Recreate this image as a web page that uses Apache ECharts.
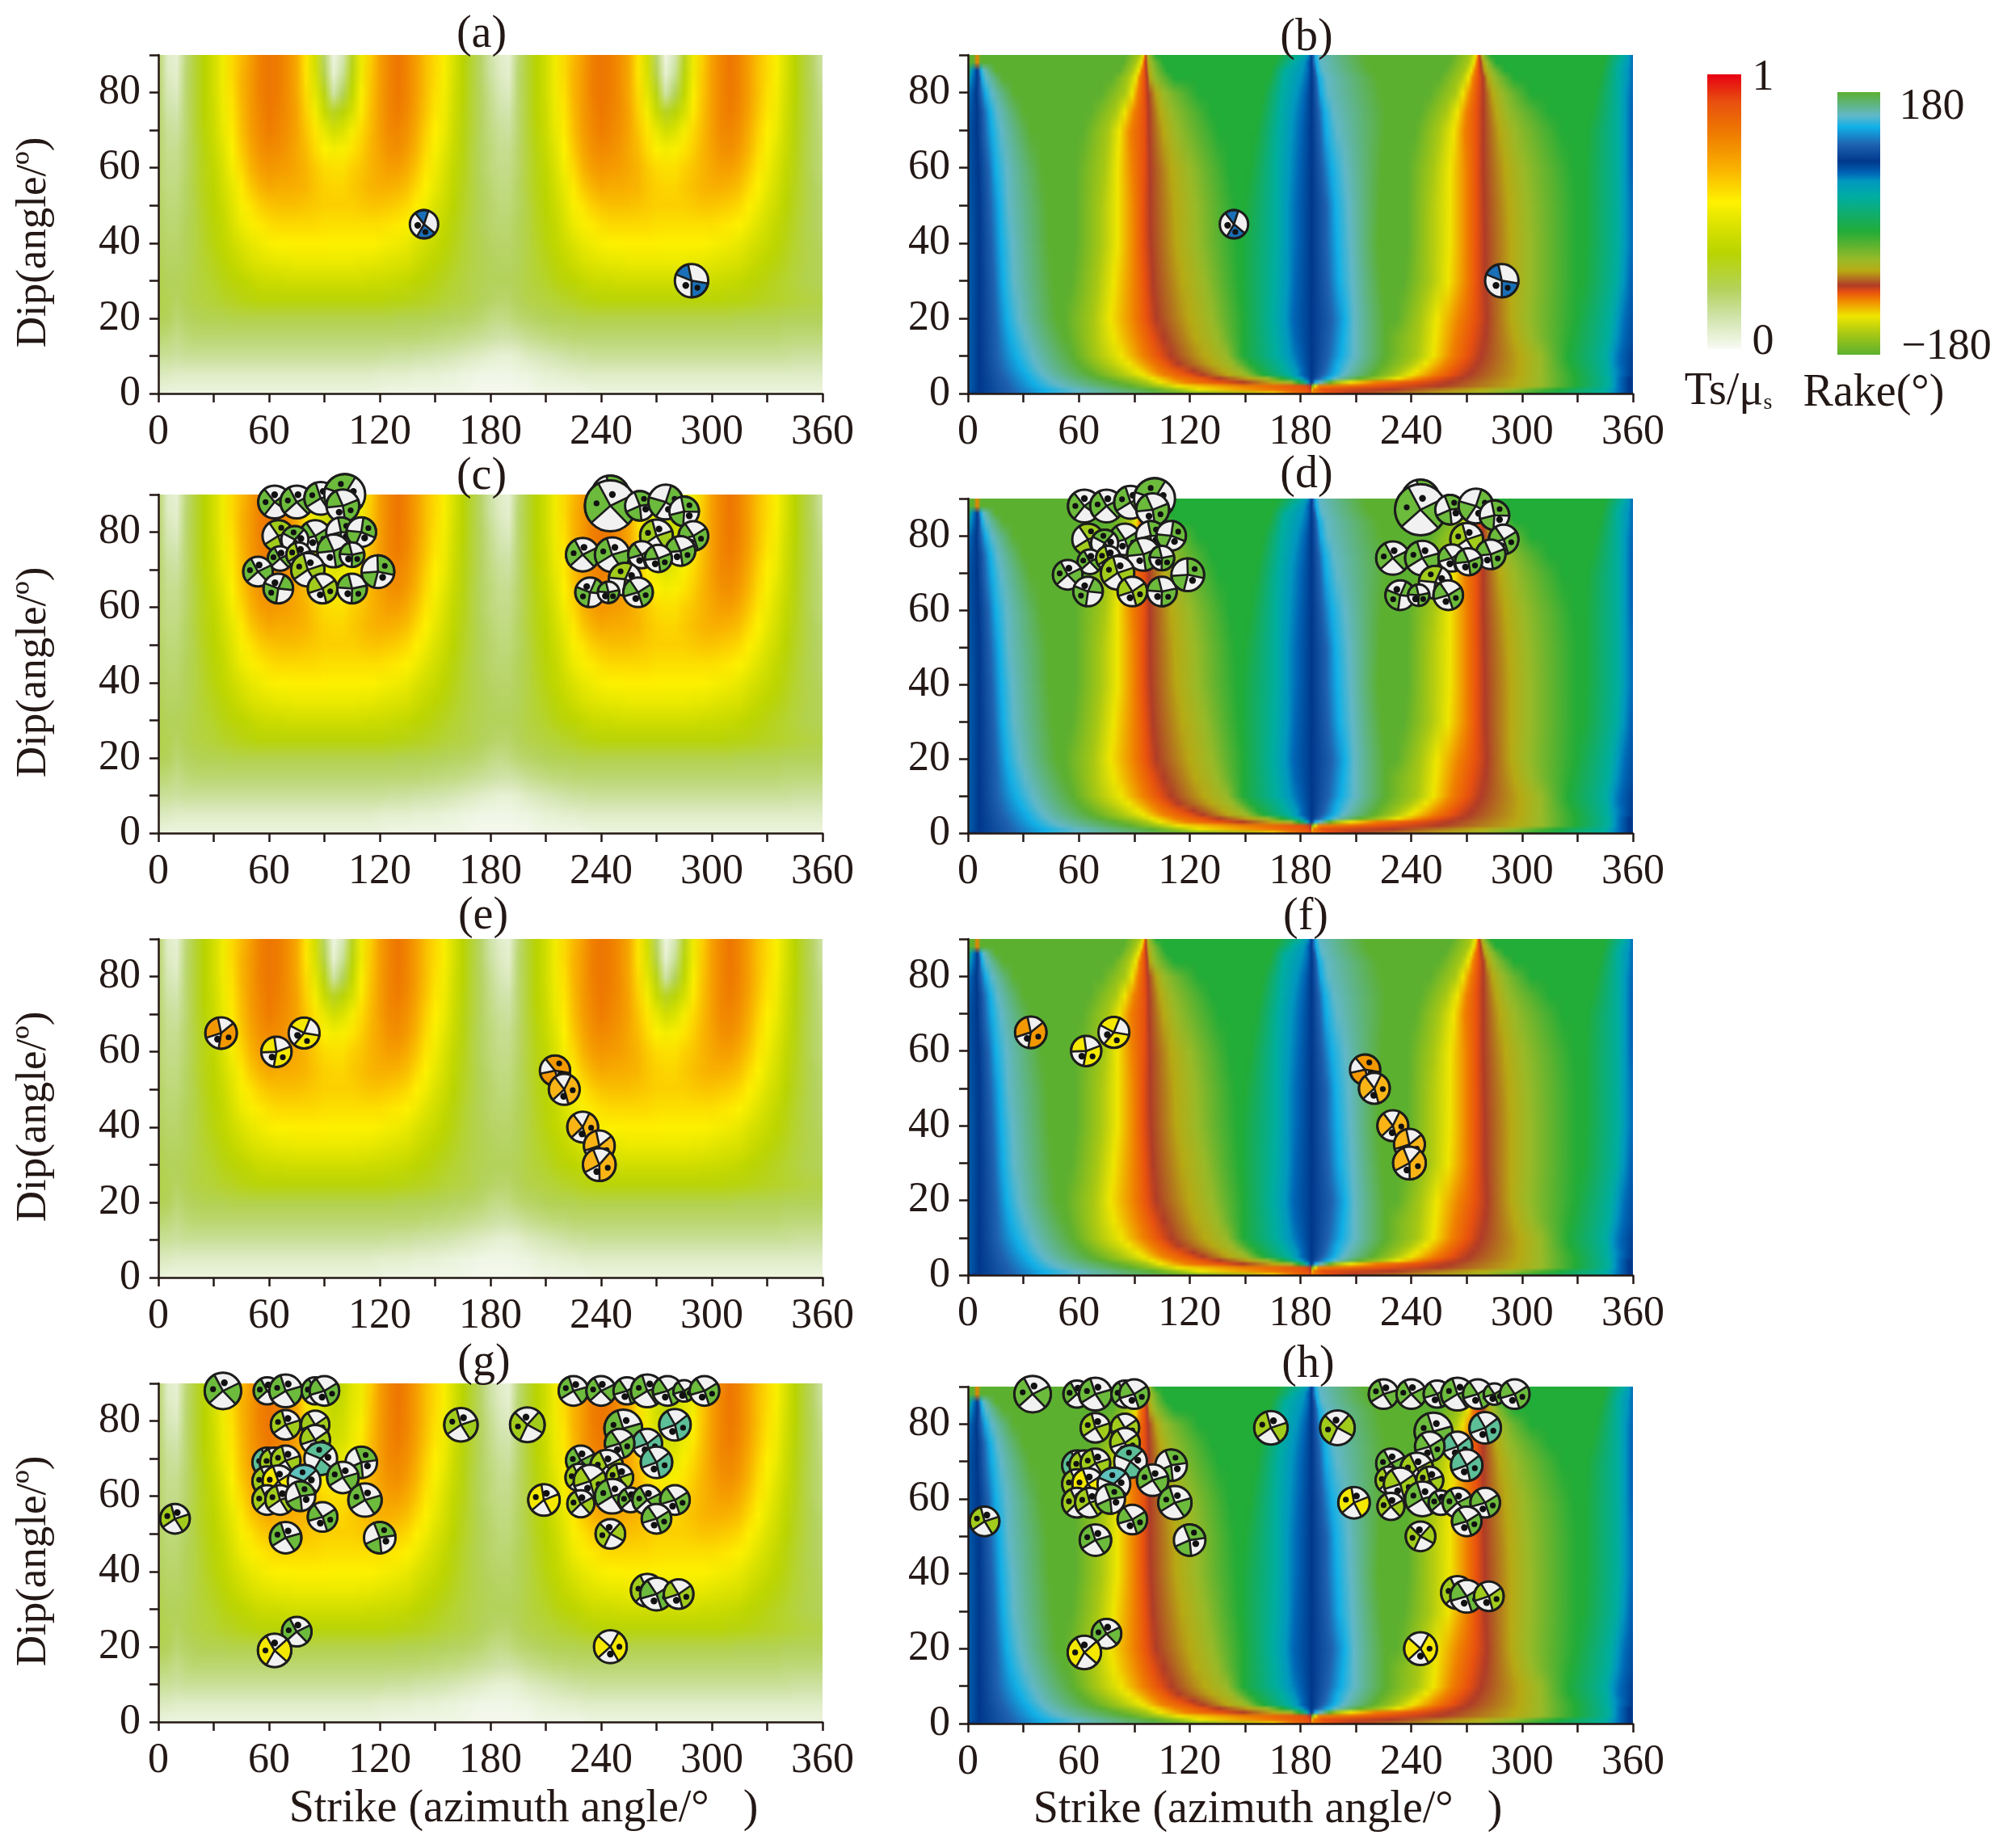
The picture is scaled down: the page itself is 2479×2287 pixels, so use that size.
<!DOCTYPE html>
<html>
<head>
<meta charset="utf-8">
<style>html,body{margin:0;padding:0;background:#fff}#chart{width:2479px;height:2287px}</style>
<script src="https://cdn.jsdelivr.net/npm/echarts@6/dist/echarts.min.js"></script>
</head>
<body>
<div id="chart"></div>
<script>
// Ts/mus, in percent, strike 0..180 step 5, one row per dip
var tsDips = [90,85,80,75,70,65,60,55,50,45,40,35,30,25,20,15,10,5,0];
var tsFirst = [
  [20,7,5,18,27,35,42,50,58,64,70,77,80,78,74,68,56,42,20,3,10,30,50,60,70,76,80,76,70,63,58,52,44,35,27,20,12],
  [20,8,6,19,27,35,42,50,58,65,71,77,80,78,74,68,56,44,24,5,14,33,50,61,70,76,80,76,70,63,58,52,44,35,27,20,13],
  [20,10,8,19,27,35,42,50,57,65,71,77,80,78,74,68,58,47,32,12,22,37,52,62,70,76,79,76,70,63,57,51,43,35,27,21,15],
  [20,12,11,19,27,35,41,49,56,64,71,76,79,77,74,69,60,51,39,30,34,43,55,63,70,76,78,75,69,62,56,50,42,34,27,21,16],
  [20,14,13,19,27,34,40,48,55,63,70,75,78,76,73,69,62,56,48,42,45,51,58,64,70,75,76,73,67,60,54,49,41,33,27,21,17],
  [20,15,15,20,26,33,39,46,53,61,68,73,75,74,72,68,64,58,53,51,52,56,60,65,69,73,74,71,65,58,52,47,40,33,26,21,18],
  [20,16,16,20,26,32,37,44,51,58,65,70,72,71,70,68,65,61,58,57,57,60,62,65,68,70,70,67,62,56,50,45,38,32,26,21,18],
  [20,17,17,21,26,32,36,42,48,55,61,65,68,67,67,66,65,62,60,59,59,61,63,65,66,66,65,63,58,53,48,43,37,31,26,22,19],
  [21,18,18,21,25,31,35,40,46,52,56,60,62,63,63,63,62,61,60,60,60,60,61,62,62,61,60,58,54,50,45,41,35,30,26,22,20],
  [21,19,19,22,25,30,34,38,44,49,52,55,57,58,58,58,58,58,57,57,57,57,57,57,57,56,55,53,50,46,42,38,33,29,25,22,20],
  [22,20,20,22,25,29,33,37,41,45,48,50,52,53,53,54,54,54,54,53,53,53,53,53,52,51,50,48,45,42,39,36,32,28,25,23,21],
  [23,21,21,22,25,28,31,34,38,41,44,46,47,48,48,49,49,49,49,49,49,49,48,48,47,46,45,44,41,38,36,33,30,27,25,23,22],
  [24,22,22,23,25,27,29,32,34,36,38,40,41,41,42,42,42,42,42,42,42,42,42,41,41,40,39,38,36,34,32,30,28,26,24,23,22],
  [24,23,21,23,25,26,27,29,30,32,33,34,34,34,34,34,34,34,34,34,34,34,34,34,34,33,33,32,31,30,29,27,26,25,24,22,21],
  [23,22,19,21,22,23,23,23,24,24,24,24,24,24,24,24,24,24,24,24,24,24,24,24,24,24,23,23,23,23,22,22,21,21,20,19,17],
  [19,18,16,18,19,19,19,19,19,19,19,19,19,19,19,19,19,19,19,19,19,19,19,19,19,19,19,19,19,18,18,17,17,16,15,14,13],
  [14,14,13,14,14,14,14,14,14,14,14,14,14,14,14,14,14,14,14,14,14,14,14,14,14,13,13,13,12,12,11,11,10,9,8,7,6],
  [8,8,7,7,7,7,7,7,7,7,7,7,7,7,7,7,7,7,7,7,7,7,7,7,6,6,6,6,5,5,5,4,4,3,3,2,2],
  [4,3,3,3,3,3,3,3,3,3,3,3,3,3,3,3,3,3,3,3,3,3,3,3,3,2,2,2,2,2,2,2,2,2,1,1,1]
];
// strike 185..360 for the low dips, the field is not periodic down there. upper rows repeat tsFirst
var tsSecondLow = {
  25: [20,20,22,24,25,26,27,29,30,32,33,34,34,34,34,34,34,34,34,34,34,34,34,34,34,33,33,32,31,30,29,28,27,26,25,25],
  20: [16,17,19,20,21,22,23,23,23,24,24,24,24,24,24,24,24,24,24,24,24,24,24,24,24,24,23,23,23,23,23,22,22,22,22,22],
  15: [12,12,13,15,16,17,18,18,19,19,19,19,19,19,19,19,19,19,19,19,19,19,19,19,19,19,19,19,19,19,19,18,18,18,18,18],
  10: [5,5,6,8,9,10,11,12,13,13,14,14,14,14,14,14,14,14,14,14,14,14,14,14,14,14,14,14,14,14,14,14,13,13,13,13],
  5: [2,2,3,3,4,5,5,6,6,7,7,7,7,7,7,7,7,7,7,7,7,7,7,7,7,7,7,7,7,7,7,7,7,7,7,7],
  0: [1,1,1,1,2,2,2,2,2,2,3,3,3,3,3,3,3,3,3,3,3,3,3,3,3,3,3,3,3,3,3,3,3,3,3,3]
};
// panels (c) and (g): the notch at strike 95 / 275 is not white at the top
var tsNotchStrikes = [85,90,95,100,105];
var tsNotchFilled = [
  [48,40,35,38,46],
  [49,42,37,40,47],
  [50,43,39,42,48],
  [51,46,42,44,49],
  [54,49,46,48,52]
];
var tsLevels = [0,0.12,0.22,0.35,0.45,0.535,0.66,0.78,0.9,1];
var tsColors = ['#f8fbf4','#cfe3a8','#b3d25a','#b9d400','#dbe200','#fff200','#f9b000','#ef7d00','#e8500f','#e60012'];

// rake: for each dip, the strike where the picture reaches each legend level
var rakeLevels = [-180,-151,-127,-104,-94,-85,-65,-50,-11,36,58,68,85,108,132,148,180];
var rakeColors = ['#5cb030','#a8c814','#f0e600','#f08000','#e8500f','#b03c28','#b8aa14','#9aba28','#22ac38','#00aea0','#0098c0','#0068b7','#00388c','#1f62b0','#10b0e8','#62b8c8','#5cb030'];
var rakeDips = [90,88,86,84,80,75,70,60,50,40,30,20,15,10,8,6,5,4,3,2,1,0];
var rakeColsFirst = [-11,58,68,85,108,132,148,180,-151,-127,-104,-94,-85,-65,-50,-11,36,58,68,85];
var rakeFirst = [
  [-10,-9,-8,-7,-6,-5,-4,-3,93,95,95.6,96,96.4,97,98,102,180,184,185,186],
  [-10,-9,-8,-7,-6,-5,-4,-2,91,94,95,95.6,96.4,97.5,99,106,176,182,184,186],
  [0,2,3.5,5,6,7,8.5,15,89,92.5,94,95.5,96.6,98,100,108,172,181,184,186],
  [-1,1,3,5,6.5,7.5,10,19,87,91,93,95.5,97,98.5,101,112,171,180,183.5,186],
  [-8,-3,1,4.5,7,9.5,13,25,85,89,92,95.5,97.5,102,106,125,170,178,182,186],
  [-12,-6,-1,5,8.5,12,16,30,80,85,90,95.5,98,104,110,132,169,176,181,186],
  [-14,-8,-3,5,9,13,18,34,76,82,88,95.5,98,106,113,136,168,175,180,186],
  [-16,-10,-3,5.5,11,15,21,40,74,81,89,95.5,98.5,110,120,142,167,174,179,186],
  [-18,-12,-2,6,12,17,22,43,72,81,90,95,98.5,112,123,145,167,173,178,186],
  [-20,-12,-1,6,13,18,24,44,72,81,90,95,99,113,124,146,167,173,178,186],
  [-20,-12,-1,6,14,19,25,46,70,79,90,96,100,116,128,147,166,173,177,186],
  [-20,-12,-1,6,15,21,28,48,68,77,90,97,102,120,132,149,165,172,176,186],
  [-20,-12,-1,6,15.5,23,31,52,68,79,92,100,106,123,135,149,166,173,177,186],
  [-20,-12,-1,6,16,26,35,57,70,83,95,104,110,128,140,149,167,174,179,186],
  [-20,-12,-1,6,17,28,37,60,74,87,99,108,114,132,143,153,170,176,180,186],
  [-20,-12,-1,6,18,30,39,64,80,92,103,115,122,138,148,157,172,178,181,186],
  [-20,-12,-1,6,19,32,41,67,83,95,106,120,127,141,151,160,174,178,181,186],
  [-20,-12,-1,6,20,33,43,72,90,100,112,128,136,152,162,170,178,181,183,186],
  [-20,-12,-1,6,21,35,46,80,97,104,118,137,149,165,175,179,183,184,185,186],
  [-20,-12,-1,6,22,37,50,88,104,114,149,182,186,186,186,186,186,186,186,186],
  [-20,-12,-1,6,23,41,58,100,115,125,160,184,186,186,186,186,186,186,186,186],
  [-20,-14,-8,4,24,40,60,112,150,165,175,186,186,186,186,186,186,186,186,186]
];
var rakeColsSecond = [108,132,148,180,-151,-127,-104,-94,-85,-65,-50,-11,36,58,68,85];
var rakeSecond = [
  [187,188,190,215,272,275,276,276.5,277,278,279,283,355,358,360,362],
  [187,188.5,191,216,271,274,275.5,276.5,277.5,279,281,286,353,358,360,362],
  [188,189,192,218,269,272.5,274.5,276.5,278,280,283,291,352,357,360,363],
  [188.5,190,194,222,267,271,273.5,276.5,279,281.5,285,296,352,357,360,363],
  [189,191,195,224,264,268,272,276,279,284,289,305,352,356,359.5,364],
  [190,193,198,226,259,265,270,275.5,279,286,292,315,352,356,359,365],
  [190.5,194,200,226,255,263,269,275.5,279,288,296,322,352,356,359,365],
  [192,197,204,224,252,261,270,275.5,279,291,301,328,352,356,359,366],
  [194,199,206,223,250,261,270,275.5,279.5,293,303,330,352,356,360,366],
  [194,200,207,222,250,261,270,275.5,280,294,304,330,352,356,360,366],
  [195,201,208,224,250,260,270,275.5,280,294,304,330,351,355,358.5,365],
  [197,204,209,226,245,254,266,275,281,294,303,329,348,352,356,364],
  [196,203,209,226,244,253,264,273,280,296,305,327,347,351,355,363],
  [195,202,209,226,243,252,262,271,278,299,310,325,345,349,353,361],
  [194,200,207,224,239,248,259,268,276,299,310,326,346,349,353,361],
  [193,199,205,221,234,243,255,264,273,299,310,328,346,350,354,360],
  [192,198,203,219,231,240,252,262,271,299,310,329,346,350,354,360],
  [190,195,199,212,224,233,245,255,267,298,310,329,347,350,353,358],
  [187,188,191,196,200,207,221,244,261,296,310,329,347,350,353,358],
  [186,186,186,186,187,188,190,225,255,296,310,329,347,350,353,358],
  [186,186,186,186,186,186,187,192,230,277,295,320,345,349,353,358],
  [186,186,186,186,186,186,186,195,210,255,280,310,345,349,353,358]
];
// how far the two plain green bands hold before they turn, one value per dip, null where it does not matter
var rakeHoldLeft = [85,84,82,78,72,66,62,58,58,58,56,52,54,null,null,null,null,null,null,null,null,null];
var rakeHoldMid = [168,166,164,163,160,158,156,153,150,148,148,null,null,null,null,null,null,null,null,null,null,null];
var rakeHoldRight = [262,260,258,255,250,245,242,238,238,238,236,232,null,null,null,null,null,null,null,null,null,null];
var rakeHoldEnd = [345,344,343,342,340,338,335,334,334,334,333,null,null,null,null,null,null,null,null,null,null,null];
// small orange spike at the top left corner of the rake panels
var rakeSpikeDips = [90,88];
var rakeSpikeStrikes = [3,5,7];
var rakeSpikeLevels = [180,-104,180];

// focal mechanisms, kind: 0 green 1 yellow-green 2 yellow 3 orange 4 amber 5 teal 6 cyan 7 blue
var ballColors = ['#6cbb3c','#a2cc1c','#f4e800','#f39800','#fab416','#5cbf98','#5fc2bc','#1a6fb8'];
var ballSpans = [90,95,105,120,120,100,100,70];

var aStrike = [144,289];
var aDip = [45,30];
var aMag = [4.5,5.3];
var aRot = [80,50];
var aKind = [7,7];

var cStrike = [63,75,88,101,100,65,85,99,110,74,66,76,95,105,54,65,81,89,105,119,
  245,245,261,275,285,270,290,283,230,246,262,271,253,234,244,260];
var cDip = [88,88,89,90,87,79,79,80,80,78,73,74,75,74,69.5,65,70,65,65,69.5,
  90,87,87,88,85.5,79,79,75,74,74,74,73,67.5,64,64,64];
var cMag = [5.2,5.2,5.2,6.5,5.2,5,5,4.7,4.7,4.3,3.9,3.9,5.2,3.9,4.7,4.7,5.3,4.7,4.7,5.2,
  6,8.1,4.7,5.5,4.7,5.2,4.7,4.7,5.3,5.5,4.3,4.3,5.2,4.7,3.4,4.7];
var cRot = [180,190,200,250,30,290,20,310,330,260,190,200,30,40,190,150,200,20,40,320,
  310,190,300,340,310,200,20,30,190,200,20,30,240,150,40,20];
var cKind = [0,0,0,0,0,1,0,0,0,0,0,1,0,0,0,0,1,1,0,0,
  0,0,0,0,0,1,0,0,0,0,0,0,1,0,0,0];

var eStrike = [34,64,79,215,220,230,239,239];
var eDip = [65,60,65,55,50,40,35,30];
var eMag = [5,4.8,4.9,4.8,4.9,4.9,4.9,5.2];
var eRot = [30,40,70,300,5,5,30,20];
var eKind = [3,2,2,3,4,4,4,4];

var gStrike = [35,59,69,85,90,69,85,85,59,63,69,88,110,59,65,79,100,59,66,77,112,89,9,69,120,75,63,164,200,209,
  225,240,254,265,276,285,296,252,280,265,250,270,229,243,228,234,250,229,246,256,265,280,270,245,265,270,282,245];
var gDip = [88,88,88,88,88,79,79,75,69,69,69.5,70,69,64,64,64,65,59,59,60,59,54.5,54,49,49,24,19,79,79,59,
  88,88,88,88,88,88,88,78,79,74,74,69,69.5,68,65,64,65,58,60,59,59,59,54,50,35,34,34,20];
var gMag = [5.8,4.3,5.2,4.3,4.7,4.7,4.5,4.7,4.7,4.7,4.7,5.2,5,4.7,5,5.2,5,4.7,4.7,4.7,5.3,4.7,4.7,5,5,4.7,5.3,5.3,5.5,5,
  4.7,4.7,4.3,5.2,4.7,3.4,4.7,6,5,4.7,4.7,5,4.7,5.2,4.3,5.2,4.3,4.3,5.5,3.9,4.7,4.7,4.7,4.7,5.2,5.2,4.7,5.2];
var gRot = [190,190,200,190,20,200,20,20,190,190,200,260,300,190,190,260,200,190,200,300,200,20,200,200,300,190,180,200,170,200,
  200,190,20,200,20,20,20,200,20,20,20,20,190,190,190,20,200,190,200,190,190,20,20,170,190,20,20,0];
var gKind = [0,0,0,0,0,1,1,1,5,1,1,5,0,1,2,6,0,1,1,0,0,0,1,0,0,0,2,1,1,2,
  0,0,0,0,0,0,0,0,5,5,0,5,0,1,1,1,1,1,0,0,0,0,0,1,1,0,1,2];

var panelLetters = ['(a)','(b)','(c)','(d)','(e)','(f)','(g)','(h)'];
var strikeTicks = [0,60,120,180,240,300,360];
var dipTicks = [0,20,40,60,80];

var chart = echarts.init(document.getElementById('chart'));

function colorOf(levels, colors, v) {
  if (v <= levels[0]) return colors[0];
  for (var i = 1; i < levels.length; i++) {
    if (v <= levels[i]) {
      var t = (v - levels[i - 1]) / (levels[i] - levels[i - 1]);
      var a = echarts.color.parse(colors[i - 1]), b = echarts.color.parse(colors[i]);
      return 'rgb(' + Math.round(a[0] + (b[0] - a[0]) * t) + ',' + Math.round(a[1] + (b[1] - a[1]) * t) + ',' + Math.round(a[2] + (b[2] - a[2]) * t) + ')';
    }
  }
  return colors[colors.length - 1];
}

// every table row becomes one line of a small canvas, the picture is stretched later
var STRIP_W = 1080;
function makeStrip(rows) {
  var c = document.createElement('canvas');
  c.width = STRIP_W;
  c.height = rows.length;
  var ctx = c.getContext('2d');
  var lo = -90, hi = 450;
  rows.forEach(function (stops, i) {
    var g = ctx.createLinearGradient(lo / 360 * STRIP_W, 0, hi / 360 * STRIP_W, 0);
    stops.forEach(function (st) {
      g.addColorStop((st[0] - lo) / (hi - lo), st[1]);
    });
    ctx.fillStyle = g;
    ctx.fillRect(0, i, STRIP_W, 1);
  });
  return c;
}

function tsStrip(filled) {
  var rows = tsDips.map(function (dip, r) {
    var vals = tsFirst[r].slice();
    if (filled && r < tsNotchFilled.length) {
      tsNotchStrikes.forEach(function (s, k) { vals[s / 5] = tsNotchFilled[r][k]; });
    }
    var second = tsSecondLow[dip] || vals.slice(1);
    vals = vals.concat(second);
    return vals.map(function (v, k) {
      return [k * 5, colorOf(tsLevels, tsColors, v / 100)];
    });
  });
  return makeStrip(rows);
}

function rakeStrip() {
  var rows = rakeDips.map(function (dip, r) {
    var stops = [];
    function add(s, level) {
      stops.push([s, colorOf(rakeLevels, rakeColors, level)]);
    }
    rakeFirst[r].forEach(function (s, k) { add(s, rakeColsFirst[k]); });
    rakeSecond[r].forEach(function (s, k) { add(s, rakeColsSecond[k]); });
    if (rakeHoldLeft[r] !== null) add(rakeHoldLeft[r], 180);
    if (rakeHoldMid[r] !== null) add(rakeHoldMid[r], -11);
    if (rakeHoldRight[r] !== null) add(rakeHoldRight[r], 180);
    if (rakeHoldEnd[r] !== null) add(rakeHoldEnd[r], -11);
    if (rakeSpikeDips.indexOf(dip) >= 0) {
      rakeSpikeStrikes.forEach(function (s, k) { add(s, rakeSpikeLevels[k]); });
    }
    stops.sort(function (p, q) { return p[0] - q[0]; });
    return stops;
  });
  return makeStrip(rows);
}

var stripTsOpen = tsStrip(false);
var stripTsFilled = tsStrip(true);
var stripRake = rakeStrip();

function fieldData(dips) {
  var out = [];
  for (var i = 0; i < dips.length - 1; i++) out.push([dips[i], dips[i + 1], i]);
  return out;
}

function fieldSeries(idx, strip, dips) {
  return {
    type: 'custom',
    xAxisIndex: idx,
    yAxisIndex: idx,
    silent: true,
    z: 1,
    clip: true,
    data: fieldData(dips),
    renderItem: function (params, api) {
      var p0 = api.coord([0, api.value(0)]);
      var p1 = api.coord([360, api.value(1)]);
      var y0 = Math.round(p0[1]), y1 = Math.round(p1[1]);
      return {
        type: 'image',
        style: {
          image: strip,
          x: p0[0], y: y0, width: p1[0] - p0[0], height: y1 - y0,
          sx: 0, sy: api.value(2) + 0.5, sWidth: STRIP_W, sHeight: 1
        }
      };
    }
  };
}

function renderBall(params, api) {
  var c = api.coord([api.value(0), api.value(1)]);
  var r = api.value(2) * 3.9;
  var rot = api.value(3) * Math.PI / 180;
  var kind = api.value(4);
  var half = ballSpans[kind] * Math.PI / 360;
  function sector(mid, scale) {
    return {
      type: 'sector',
      shape: { cx: c[0], cy: c[1], r: r, r0: 0, startAngle: mid - half * scale, endAngle: mid + half * scale, clockwise: true },
      style: { fill: ballColors[kind], stroke: '#1c1c1c', lineWidth: 2.6 }
    };
  }
  function dot(ang, dist, size) {
    return {
      type: 'circle',
      shape: { cx: c[0] + Math.cos(ang) * r * dist, cy: c[1] + Math.sin(ang) * r * dist, r: size },
      style: { fill: '#111' }
    };
  }
  return {
    type: 'group',
    children: [
      { type: 'circle', shape: { cx: c[0], cy: c[1], r: r }, style: { fill: '#f1f1f1' } },
      sector(rot, 1.15),
      sector(rot + Math.PI, 0.8),
      { type: 'circle', shape: { cx: c[0], cy: c[1], r: r }, style: { fill: 'none', stroke: '#1c1c1c', lineWidth: 3 } },
      dot(rot + Math.PI / 2, 0.45, 4.2),
      dot(rot, 0.55, 3.6)
    ]
  };
}

function ballSeries(idx, strike, dip, mag, rot, kind) {
  return {
    type: 'custom',
    xAxisIndex: idx,
    yAxisIndex: idx,
    silent: true,
    z: 6,
    clip: false,
    encode: { x: 0, y: 1 },
    data: strike.map(function (s, i) { return [s, dip[i], mag[i], rot[i], kind[i]]; }),
    renderItem: renderBall
  };
}

var tickFont = { fontFamily: 'Liberation Serif', fontSize: 52, color: '#231815' };
var axisLine = { show: true, onZero: false, lineStyle: { color: '#231815', width: 2.5 } };
var axisTick = { show: true, length: 11, lineStyle: { color: '#231815', width: 2.5 } };

var panels = [
  { left: 196, width: 822, top: 68, height: 419 },
  { left: 1198, width: 823, top: 68, height: 419 },
  { left: 196, width: 822, top: 612, height: 419 },
  { left: 1198, width: 823, top: 617, height: 414 },
  { left: 196, width: 822, top: 1162, height: 419 },
  { left: 1198, width: 823, top: 1162, height: 416 },
  { left: 196, width: 822, top: 1712, height: 419 },
  { left: 1198, width: 823, top: 1716, height: 417 }
];

var grids = [], xAxes = [], yAxes = [], series = [];
panels.forEach(function (p, i) {
  grids.push({ left: p.left, top: p.top, width: p.width, height: p.height, containLabel: false });
  xAxes.push({
    type: 'value', gridIndex: i, min: 0, max: 360, interval: 30, z: 3,
    splitLine: { show: false }, axisLine: axisLine, axisTick: axisTick,
    axisLabel: Object.assign({ margin: 22, showMinLabel: true, showMaxLabel: true, hideOverlap: false,
      formatter: function (v) { return strikeTicks.indexOf(v) >= 0 ? String(v) : ''; } }, tickFont)
  });
  yAxes.push({
    type: 'value', gridIndex: i, min: 0, max: 90, interval: 10, z: 3,
    splitLine: { show: false }, axisLine: axisLine, axisTick: axisTick,
    axisLabel: Object.assign({ margin: 22, showMinLabel: true, hideOverlap: false,
      formatter: function (v) { return dipTicks.indexOf(v) >= 0 ? String(v) : ''; } }, tickFont)
  });
  var left = i % 2 === 0;
  var strip = left ? (i === 2 || i === 6 ? stripTsFilled : stripTsOpen) : stripRake;
  series.push(fieldSeries(i, strip, left ? tsDips : rakeDips));
});
[[aStrike, aDip, aMag, aRot, aKind], [cStrike, cDip, cMag, cRot, cKind], [eStrike, eDip, eMag, eRot, eKind], [gStrike, gDip, gMag, gRot, gKind]].forEach(function (b, row) {
  series.push(ballSeries(row * 2, b[0], b[1], b[2], b[3], b[4]));
  series.push(ballSeries(row * 2 + 1, b[0], b[1], b[2], b[3], b[4]));
});

function text(str, x, y, size, extra) {
  return Object.assign({
    type: 'text', x: x, y: y, z: 20, silent: true,
    style: { text: str, fill: '#231815', font: size + 'px "Liberation Serif"', textAlign: 'center', textVerticalAlign: 'middle' }
  }, extra || {});
}

var letterPos = [[596,43],[1617,47],[596,590],[1617,588],[598,1134],[1616,1135],[599,1687],[1619,1689]];
var graphics = panelLetters.map(function (l, i) { return text(l, letterPos[i][0], letterPos[i][1], 56); });
[300,832,1382,1932].forEach(function (y) {
  graphics.push(text('Dip(angle/º)', 42, y, 53, { rotation: Math.PI / 2 }));
});
graphics.push(text('Strike (azimuth angle/°   )', 648, 2239, 56));
graphics.push(text('Strike (azimuth angle/°   )', 1569, 2240, 56));

// colour bars
function barStops(levels, colors) {
  var lo = levels[0], hi = levels[levels.length - 1];
  return levels.map(function (v, i) {
    return { offset: 1 - (v - lo) / (hi - lo), color: colors[i] };
  }).reverse();
}
graphics.push({
  type: 'rect', z: 20, silent: true,
  shape: { x: 2113, y: 92, width: 42, height: 340 },
  style: { fill: new echarts.graphic.LinearGradient(0, 0, 0, 1, barStops(tsLevels, tsColors)) }
});
graphics.push({
  type: 'rect', z: 20, silent: true,
  shape: { x: 2274, y: 114, width: 53, height: 325 },
  style: { fill: new echarts.graphic.LinearGradient(0, 0, 0, 1, barStops(rakeLevels, rakeColors)) }
});
graphics.push(text('1', 2182, 97, 54));
graphics.push(text('0', 2182, 424, 54));
graphics.push(text('180', 2391, 133, 54));
graphics.push(text('−180', 2409, 430, 54));
graphics.push(text('Rake(°)', 2319, 487, 56));
graphics.push({
  type: 'text', x: 2139, y: 485, z: 20, silent: true,
  style: {
    text: '{a|Ts/μ}{b|s}', textAlign: 'center', textVerticalAlign: 'middle', fill: '#231815',
    rich: {
      a: { fontFamily: 'Liberation Serif', fontSize: 56, fill: '#231815' },
      b: { fontFamily: 'Liberation Serif', fontSize: 28, fill: '#231815', verticalAlign: 'bottom', padding: [16, 0, 0, 0] }
    }
  }
});

chart.setOption({
  animation: false,
  backgroundColor: '#fff',
  grid: grids,
  xAxis: xAxes,
  yAxis: yAxes,
  series: series,
  graphic: graphics
});
</script>
</body>
</html>
